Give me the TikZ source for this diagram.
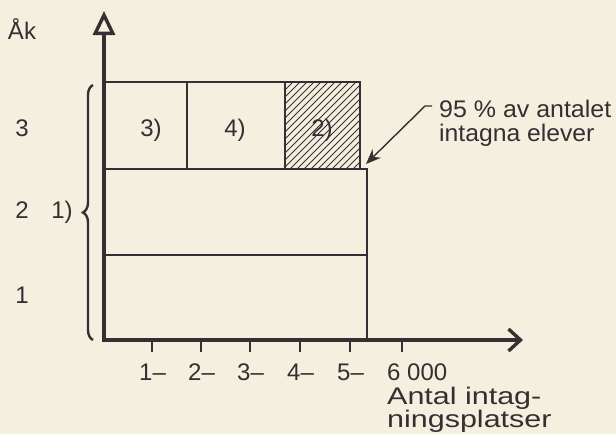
\documentclass[tikz,border=0pt]{standalone}
\usepackage{fontspec}
\usepackage{graphicx}
\setmainfont{Liberation Sans}
\usetikzlibrary{arrows.meta,decorations.pathreplacing}
\definecolor{paper}{RGB}{244,240,223}
\definecolor{ink}{RGB}{55,45,50}
\begin{document}
\begin{tikzpicture}[x=1pt,y=-1pt,
  axisline/.style={draw=ink, line width=3.4pt},
  boxline/.style={draw=ink, line width=2.1pt},
  tickline/.style={draw=ink, line width=1.6pt},
  hatchline/.style={draw=ink, line width=0.8pt},
  lbl/.style={text=ink, font=\fontsize{24}{28}\selectfont, inner sep=0pt},
  ticklbl/.style={lbl, anchor=base west},
  pointer/.style={draw=ink, line width=1.4pt, -{Stealth[length=15pt,width=12pt]}}]
\fill[paper] (0,0) rectangle (616,434);
\useasboundingbox (0,0) rectangle (616,434);
% hatched field
\begin{scope}
  \clip (285,82) rectangle (360,169);
  \foreach \s in {-100,-93,...,100} {
    \draw[hatchline] (285+\s,169) -- (285+\s+90,79);
  }
\end{scope}
% boxes
\draw[boxline] (104,82) rectangle (360,169);
\draw[boxline] (187,82) -- (187,169);
\draw[boxline] (285,82) -- (285,169);
\draw[boxline] (104,169) rectangle (367,340);
\draw[boxline] (104,255) -- (367,255);
% axes
\draw[axisline, -{Triangle[open,length=24pt,width=22pt]}] (104,341.7) -- (104,11);
\draw[axisline, -{Straight Barb[length=12pt,width=22pt]}] (102.3,340) -- (523,340);
% ticks
\foreach \t in {152,201,250,300,350,402} {
  \draw[tickline] (\t,340) -- (\t,352);
}
% brace
\draw[ink, line width=2.4pt, decorate, decoration={brace, amplitude=10pt}] (93,340) -- (93,85);
% labels
\node[lbl, anchor=base] (ak) at (22,39) {Åk};
\node[lbl, anchor=base] (y3) at (22,136) {3};
\node[lbl, anchor=base] (y2) at (22,218) {2};
\node[lbl, anchor=base] (y1) at (22,303) {1};
\node[lbl, anchor=base] (n1) at (62,218) {1)};
\node[lbl, anchor=base] (b3) at (151,136) {3)};
\node[lbl, anchor=base] (b4) at (235,136) {4)};
\node[lbl, anchor=base] (b2) at (322,136) {2)};
\node[ticklbl] (t1) at (139,380) {1–};
\node[ticklbl] (t2) at (188,380) {2–};
\node[ticklbl] (t3) at (237,380) {3–};
\node[ticklbl] (t4) at (287,380) {4–};
\node[ticklbl] (t5) at (337,380) {5–};
\node[ticklbl] (t6) at (387,380) {6 000};
\node[ticklbl] (xl1) at (387,404) {\scalebox{1.27}[1]{Antal intag-}};
\node[ticklbl] (xl2) at (387,427) {\scalebox{1.27}[1]{ningsplatser}};
\node[ticklbl] (note1) at (439,117) {\scalebox{1.04}[1]{95 \% av antalet}};
\node[ticklbl] (note2) at (439,141) {\scalebox{1.03}[1]{intagna elever}};
% pointer
\coordinate (pstart) at (432,106);
\coordinate (pbend) at (425,106);
\coordinate (ptip) at (366,164);
\draw[pointer] (pstart) -- (pbend) -- (ptip);
\end{tikzpicture}
\end{document}
